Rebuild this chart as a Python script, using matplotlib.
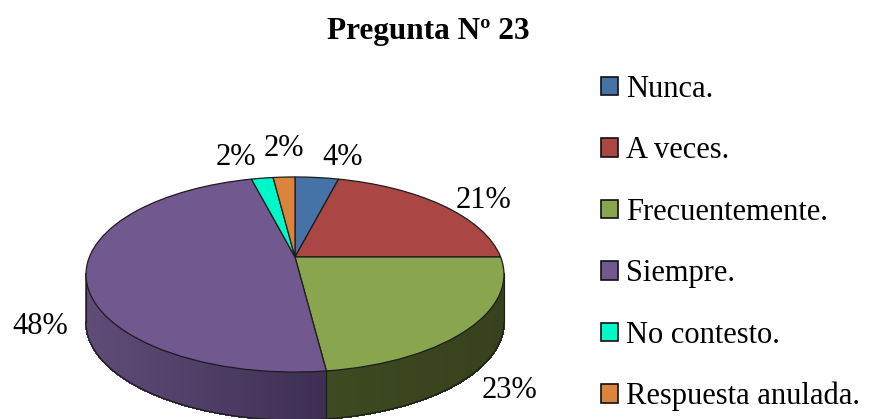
import numpy as np
import matplotlib
matplotlib.use("Agg")
import matplotlib.pyplot as plt
from matplotlib.transforms import Transform
from matplotlib.collections import PolyCollection
from matplotlib.colors import to_rgb

title = "Pregunta Nº 23"
categories = ["Nunca.", "A veces.", "Frecuentemente.", "Siempre.", "No contesto.", "Respuesta anulada."]
values = [4, 21, 23, 48, 2, 2]
colors = ["#4572a7", "#aa4643", "#89a54e", "#71588f", "#00f8c8", "#db843d"]
wall_from = ["#2a4568", "#6a2b29", "#3e4a21", "#5f4c78", "#009078", "#8a5226"]
wall_to = ["#2a4568", "#6a2b29", "#37411d", "#3d2e52", "#009078", "#8a5226"]

plt.rcParams["font.family"] = ["Liberation Serif", "DejaVu Serif"]
CX, CY, A, B, K, DEPTH = 295.0, 257.0, 205.6, 94.4, 0.1795, 48.0
EDGE = "#1c1c1c"


class Perspective(Transform):
    """Projects the unit pie onto the tilted disc, in pixel coordinates."""
    input_dims = output_dims = 2

    def transform_non_affine(self, xy):
        xy = np.asarray(xy, float)
        w = 1 + K * xy[:, 1]
        return np.column_stack([CX + A * xy[:, 0] / w, CY - B * xy[:, 1] / w])


H = Perspective()
fig = plt.figure(figsize=(8.71, 4.19), dpi=100)
ax = fig.add_axes([0, 0, 1, 1])

# Side wall, built from the slice angles
cum = np.cumsum([0] + values) / sum(values) * 2 * np.pi
quads, quad_colors = [], []
for i in range(len(values)):
    t = np.linspace(cum[i], cum[i + 1], max(int(np.degrees(cum[i + 1] - cum[i])), 2) + 1)
    t = t[np.cos(t) < -K + 0.02]
    if len(t) < 2:
        continue
    top = H.transform_non_affine(np.column_stack([np.sin(t), np.cos(t)]))
    bottom = top + [0, DEPTH]
    c0, c1 = np.array(to_rgb(wall_from[i])), np.array(to_rgb(wall_to[i]))
    span = top[:, 0]
    for j in range(len(t) - 1):
        quads.append([top[j], top[j + 1], bottom[j + 1], bottom[j]])
        x = (top[j, 0] + top[j + 1, 0]) / 2
        f = (x - span.min()) / (span.max() - span.min())
        quad_colors.append(c0 + (c1 - c0) * f)
    ax.plot(bottom[:, 0], bottom[:, 1], color=EDGE, lw=0.9, zorder=2, clip_on=False)
    ax.plot([top[0, 0], bottom[0, 0]], [top[0, 1], bottom[0, 1]], color=EDGE, lw=0.8, zorder=2)
    ax.plot([top[-1, 0], bottom[-1, 0]], [top[-1, 1], bottom[-1, 1]], color=EDGE, lw=0.8, zorder=2)
ax.add_collection(PolyCollection(quads, facecolors=quad_colors, edgecolors=quad_colors,
                                 linewidths=0.8, antialiased=False, zorder=1))

wedges, _ = ax.pie(values, colors=colors, startangle=90, counterclock=False, frame=True,
                   wedgeprops=dict(edgecolor=EDGE, linewidth=0.9, zorder=3))
for w in wedges:
    w.set_transform(H + ax.transData)

ax.set_aspect("auto")
ax.set_xlim(0, 871)
ax.set_ylim(419, 0)
ax.axis("off")

ax.text(428, 31, title, ha="center", va="center", fontsize=22.5, fontweight="bold")
label_pos = [(343, 157), (483, 200), (509, 390), (40, 326), (236, 157), (284, 148)]
for v, (x, y) in zip(values, label_pos):
    ax.text(x, y, f"{v}%", ha="center", va="center", fontsize=22)

leg = ax.legend(wedges, categories, loc="upper left", bbox_to_anchor=(601 / 871, 1 - 75 / 419),
                frameon=False, fontsize=22, labelspacing=1.06, handlelength=0.55, handleheight=0.55,
                handletextpad=0.28, borderpad=0, borderaxespad=0)
for h in leg.legend_handles:
    h.set_edgecolor("#111111")
    h.set_linewidth(1.2)

fig.savefig("out.png", dpi=100)
